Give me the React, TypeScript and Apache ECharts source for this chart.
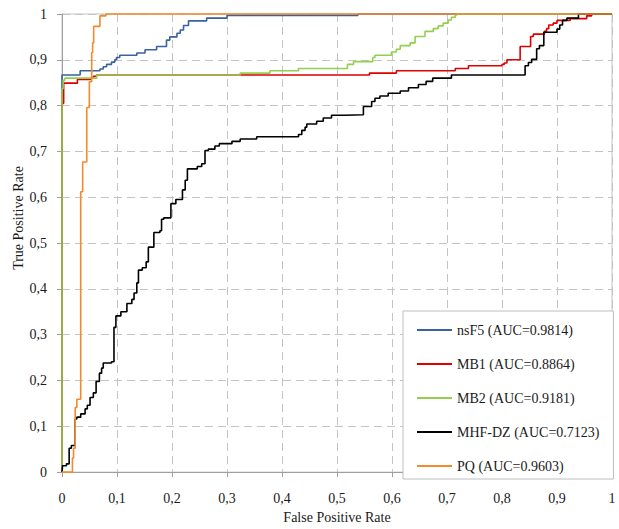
import React, { useEffect, useRef } from "react";
import * as echarts from "echarts";

const seriesNames = [
  "nsF5 (AUC=0.9814)",
  "MB1 (AUC=0.8864)",
  "MB2 (AUC=0.9181)",
  "MHF-DZ (AUC=0.7123)",
  "PQ (AUC=0.9603)",
];

const seriesColors = ["#3A62A0", "#E00000", "#92D050", "#000000", "#F28A2E"];

// [false positive rate, true positive rate] — each point: at this FPR, TPR rises to this value
const nsF5: [number, number][] = [
  [0, 0], [0, 0.867], [0.033, 0.876], [0.069, 0.88], [0.075, 0.885], [0.081, 0.89],
  [0.09, 0.895], [0.096, 0.9], [0.099, 0.905], [0.105, 0.91], [0.136, 0.915],
  [0.151, 0.922], [0.172, 0.929], [0.19, 0.943], [0.196, 0.95], [0.209, 0.958],
  [0.215, 0.965], [0.221, 0.975], [0.23, 0.985], [0.263, 0.991], [0.3, 0.997],
  [0.538, 1], [1, 1],
];

const mb1: [number, number][] = [
  [0, 0], [0, 0.805], [0.003, 0.849], [0.028, 0.857], [0.052, 0.86], [0.057, 0.864],
  [0.063, 0.867], [0.559, 0.871], [0.608, 0.876], [0.715, 0.881], [0.739, 0.887],
  [0.8, 0.89], [0.804, 0.893], [0.809, 0.9], [0.833, 0.929], [0.852, 0.951],
  [0.857, 0.956], [0.877, 0.962], [0.881, 0.968], [0.885, 0.976], [0.893, 0.98],
  [0.9, 0.986], [0.924, 0.99], [0.954, 0.996], [0.963, 1], [1, 1],
];

const mb2: [number, number][] = [
  [0, 0], [0, 0.837], [0.002, 0.855], [0.005, 0.86], [0.063, 0.867], [0.324, 0.871],
  [0.378, 0.876], [0.43, 0.881], [0.519, 0.89], [0.53, 0.896], [0.565, 0.905],
  [0.569, 0.91], [0.599, 0.917], [0.608, 0.923], [0.615, 0.931], [0.633, 0.937],
  [0.642, 0.951], [0.66, 0.962], [0.675, 0.968], [0.684, 0.974], [0.693, 0.98],
  [0.702, 0.987], [0.708, 0.993], [0.715, 0.998], [0.718, 1], [1, 1],
];

const mhfDz: [number, number][] = [
  [0, 0], [0.001, 0.014], [0.008, 0.018], [0.013, 0.052], [0.017, 0.058], [0.024, 0.116],
  [0.027, 0.12], [0.034, 0.127], [0.042, 0.138], [0.046, 0.146], [0.051, 0.163],
  [0.057, 0.173], [0.062, 0.198], [0.068, 0.216], [0.072, 0.227], [0.075, 0.238],
  [0.09, 0.241], [0.0945, 0.316], [0.098, 0.341], [0.107, 0.35], [0.118, 0.368],
  [0.127, 0.377], [0.131, 0.391], [0.136, 0.413], [0.139, 0.441], [0.146, 0.446],
  [0.153, 0.459], [0.157, 0.491], [0.167, 0.523], [0.178, 0.527], [0.181, 0.552],
  [0.185, 0.555], [0.198, 0.586], [0.207, 0.595], [0.219, 0.616], [0.224, 0.637],
  [0.228, 0.662], [0.246, 0.667], [0.254, 0.673], [0.26, 0.702], [0.266, 0.705],
  [0.278, 0.712], [0.286, 0.717], [0.309, 0.722], [0.324, 0.727], [0.354, 0.732],
  [0.43, 0.737], [0.436, 0.746], [0.442, 0.753], [0.445, 0.76], [0.463, 0.766],
  [0.475, 0.773], [0.49, 0.779], [0.515, 0.78], [0.548, 0.798], [0.563, 0.809],
  [0.569, 0.816], [0.578, 0.821], [0.593, 0.827], [0.615, 0.832], [0.63, 0.839],
  [0.648, 0.846], [0.662, 0.853], [0.674, 0.86], [0.708, 0.867], [0.842, 0.887],
  [0.848, 0.894], [0.854, 0.901], [0.863, 0.924], [0.868, 0.931], [0.876, 0.96],
  [0.9, 0.967], [0.905, 0.976], [0.91, 0.986], [0.918, 0.991], [0.939, 1], [1, 1],
];

const pq: [number, number][] = [
  [0, 0], [0.019, 0.031], [0.021, 0.052], [0.024, 0.141], [0.027, 0.159],
  [0.034, 0.612], [0.0376, 0.677], [0.045, 0.796], [0.0497, 0.852], [0.054, 0.916],
  [0.0557, 0.937], [0.0576, 0.973], [0.069, 0.996], [0.08, 1], [1, 1],
];

const seriesData = [nsF5, mb1, mb2, mhfDz, pq];

const axisTicks = [0, 0.1, 0.2, 0.3, 0.4, 0.5, 0.6, 0.7, 0.8, 0.9, 1];

const FONT = "Liberation Serif";

const fmt = (v: number) => String(Math.round(v * 10) / 10).replace(".", ",");

export default function App() {
  const ref = useRef<HTMLDivElement>(null);

  useEffect(() => {
    if (!ref.current) return;
    const chart = echarts.init(ref.current, undefined, { renderer: "svg" });
    const axisCommon = {
      type: "value" as const,
      min: axisTicks[0],
      max: axisTicks[axisTicks.length - 1],
      interval: 0.1,
      axisLine: { show: true, lineStyle: { color: "#A0A0A0", width: 1 } },
      axisTick: { show: true, inside: false, length: 5, lineStyle: { color: "#A0A0A0" } },
      splitLine: { show: true, lineStyle: { color: "#C4C4C4", type: [8, 5], width: 1 } },
      axisLabel: {
        color: "#1a1a1a",
        fontFamily: FONT,
        fontSize: 14,
        formatter: fmt,
      },
    };
    chart.setOption({
      animation: false,
      backgroundColor: "#ffffff",
      textStyle: { fontFamily: FONT },
      grid: {
        left: 62,
        right: 7,
        top: 14,
        bottom: 48,
        show: true,
        borderColor: "#C4C4C4",
        borderWidth: 1,
        backgroundColor: "transparent",
      },
      xAxis: {
        ...axisCommon,
        axisLabel: { ...axisCommon.axisLabel, margin: 19 },
        name: "False Positive Rate",
        nameLocation: "middle",
        nameGap: 37,
        nameTextStyle: { color: "#1a1a1a", fontFamily: FONT, fontSize: 14 },
      },
      yAxis: {
        ...axisCommon,
        axisLabel: { ...axisCommon.axisLabel, margin: 15 },
      },
      legend: {
        orient: "vertical",
        left: 403,
        top: 311,
        padding: [12, 14, 6, 14],
        itemGap: 20,
        itemWidth: 35,
        itemHeight: 2,
        icon: "rect",
        backgroundColor: "#ffffff",
        borderColor: "#BFBFBF",
        borderWidth: 1,
        borderRadius: 0,
        textStyle: { color: "#1a1a1a", fontFamily: FONT, fontSize: 14 },
        data: seriesNames,
      },
      graphic: [
        {
          type: "text",
          x: 18,
          y: 218,
          rotation: Math.PI / 2,
          style: {
            text: "True Positive Rate",
            fontFamily: FONT,
            fontSize: 14,
            fill: "#1a1a1a",
            align: "center",
            verticalAlign: "middle",
          },
        },
      ],
      series: seriesData.map((d, i) => ({
        name: seriesNames[i],
        type: "line",
        step: "end",
        data: d,
        symbol: "none",
        showSymbol: false,
        clip: false,
        color: seriesColors[i],
        lineStyle: { color: seriesColors[i], width: 1.6 },
        z: 2 + i,
      })),
    });
    return () => chart.dispose();
  }, []);

  return (
    <div
      ref={ref}
      style={{ position: "absolute", left: 0, top: 0, width: 619, height: 529 }}
    />
  );
}
